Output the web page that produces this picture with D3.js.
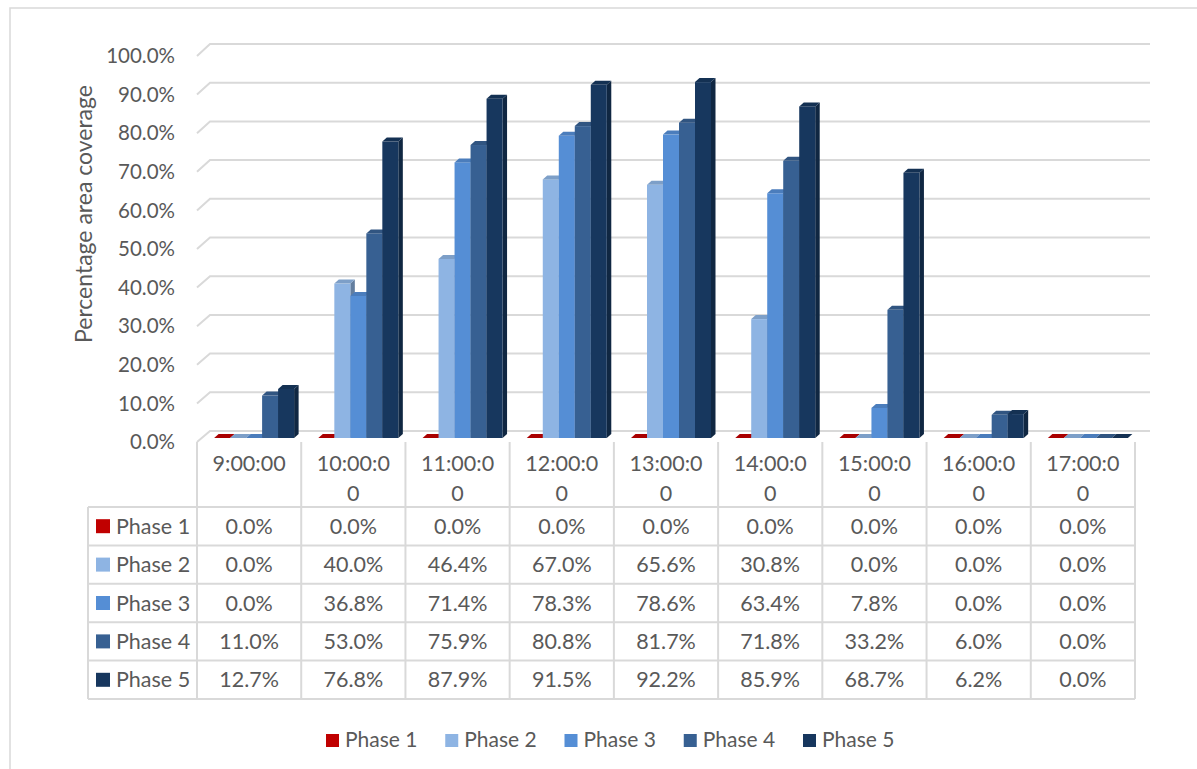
<!DOCTYPE html>
<html>
<head>
<meta charset="utf-8">
<script src="https://cdn.jsdelivr.net/npm/d3@7"></script>
<style>
  html, body { margin: 0; padding: 0; background: #ffffff; }
  svg { display: block; }
  text { font-family: Lato, "Open Sans", sans-serif; fill: #595959; }
</style>
</head>
<body>
<svg id="chart" width="1197" height="769"></svg>
<script>
// Coverage per time of day, one array per phase
const categories = ["9:00:00", "10:00:00", "11:00:00", "12:00:00", "13:00:00", "14:00:00", "15:00:00", "16:00:00", "17:00:00"];
const phases = ["Phase 1", "Phase 2", "Phase 3", "Phase 4", "Phase 5"];
const phase1 = [0.000, 0.000, 0.000, 0.000, 0.000, 0.000, 0.000, 0.000, 0.000];
const phase2 = [0.000, 0.400, 0.464, 0.670, 0.656, 0.308, 0.000, 0.000, 0.000];
const phase3 = [0.000, 0.368, 0.714, 0.783, 0.786, 0.634, 0.078, 0.000, 0.000];
const phase4 = [0.110, 0.530, 0.759, 0.808, 0.817, 0.718, 0.332, 0.060, 0.000];
const phase5 = [0.127, 0.768, 0.879, 0.915, 0.922, 0.859, 0.687, 0.062, 0.000];
const yTicks = [0, 0.1, 0.2, 0.3, 0.4, 0.5, 0.6, 0.7, 0.8, 0.9, 1.0];
const phaseColors = ["#C00000", "#8EB4E3", "#558ED5", "#376092", "#17375E"];

const seriesValues = [phase1, phase2, phase3, phase4, phase5];
const rows = phases.map((p, i) => ({ phase: p, color: phaseColors[i], values: seriesValues[i] }));

const svg = d3.select("#chart");
const pct = d3.format(".1%");
const axisFont = "20.5px", tableFont = "21.5px", legendFont = "21px", titleFont = "23px";

// Chart frame (top and left edges in view)
svg.append("path")
  .attr("d", "M10,769 L10,8 L1197,8")
  .attr("fill", "none").attr("stroke", "#d9d9d9").attr("stroke-width", 1.5);

// Column band shared by plot and data table
const x = d3.scaleBand().domain(categories).range([197, 1135]).paddingInner(0).paddingOuter(0);
const bw = x.bandwidth();

// Three vertical planes: front edge of floor (axis labels), bar faces, back wall
const yFront = d3.scaleLinear().domain([0, 1]).range([442, 56]);
const yBar   = d3.scaleLinear().domain([0, 1]).range([438, 52]);
const yBack  = d3.scaleLinear().domain([0, 1]).range([431, 44]);
const wallX0 = 210, wallX1 = 1150, frontX = 197;

// Gridlines: short diagonal on the side wall, then across the back wall
const grid = svg.append("g");
yTicks.forEach(t => {
  grid.append("path")
    .attr("d", `M${frontX},${yFront(t)} L${wallX0},${yBack(t)} L${wallX1},${yBack(t)}`)
    .attr("fill", "none").attr("stroke", "#d9d9d9").attr("stroke-width", 2);
});

// Value axis labels
const yAxis = svg.append("g");
yAxis.selectAll("text").data(yTicks).join("text")
  .attr("x", 175).attr("y", d => yFront(d))
  .attr("dy", "0.35em").attr("text-anchor", "end")
  .style("font-size", axisFont)
  .text(d => pct(d));

svg.append("text")
  .attr("transform", `translate(92,214) rotate(-90)`)
  .attr("text-anchor", "middle")
  .style("font-size", titleFont)
  .text("Percentage area coverage");

// 3D columns
const groupW = 80, depthX = 4.5, depthY = 4;
const xs = d3.scaleBand().domain(phases).range([0, groupW]);
const barW = xs.bandwidth();
const groupOffset = (bw - groupW) / 2 + 5;

const bars = svg.append("g");
categories.forEach((cat, ci) => {
  rows.forEach(r => {
    const v = r.values[ci];
    const x0 = x(cat) + groupOffset + xs(r.phase);
    const x1 = x0 + barW;
    const yt = yBar(v), yb = yBar(0);
    const base = d3.color(r.color);
    const g = bars.append("g");
    // side face
    g.append("path")
      .attr("d", `M${x1},${yt} L${x1 + depthX},${yt - depthY} L${x1 + depthX},${yb - depthY} L${x1},${yb} Z`)
      .attr("fill", base.darker(1.0).formatHex());
    // front face
    if (yb - yt > 0) {
      g.append("rect")
        .attr("x", x0).attr("y", yt)
        .attr("width", barW).attr("height", yb - yt)
        .attr("fill", r.color);
    }
    // top face
    g.append("path")
      .attr("d", `M${x0},${yt} L${x1},${yt} L${x1 + depthX},${yt - depthY} L${x0 + depthX},${yt - depthY} Z`)
      .attr("fill", base.darker(0.35).formatHex());
  });
});

// Data table
const rowH = 38.4;
const headTop = 442, headBottom = 507;
const tableLeft = 88, tableRight = 1135;
const yRow = i => headBottom + i * rowH;
const table = svg.append("g");
const lineColor = "#d9d9d9";

// horizontal rules
d3.range(rows.length + 1).forEach(i => {
  table.append("line")
    .attr("x1", tableLeft).attr("x2", tableRight)
    .attr("y1", yRow(i)).attr("y2", yRow(i))
    .attr("stroke", lineColor).attr("stroke-width", 2);
});
// vertical rules
table.append("line")
  .attr("x1", tableLeft).attr("x2", tableLeft)
  .attr("y1", headBottom).attr("y2", yRow(rows.length))
  .attr("stroke", lineColor).attr("stroke-width", 2);
categories.concat(["end"]).forEach((c, i) => {
  const xx = i < categories.length ? x(c) : x.range()[1];
  table.append("line")
    .attr("x1", xx).attr("x2", xx)
    .attr("y1", headTop).attr("y2", yRow(rows.length))
    .attr("stroke", lineColor).attr("stroke-width", 2);
});

// category headers, broken after seven characters
categories.forEach(c => {
  const parts = c.length > 7 ? [c.slice(0, 7), c.slice(7)] : [c];
  const t = table.append("text")
    .attr("x", x(c) + bw / 2).attr("y", 471)
    .attr("text-anchor", "middle")
    .style("font-size", tableFont);
  parts.forEach((p, k) => {
    t.append("tspan").attr("x", x(c) + bw / 2).attr("dy", k === 0 ? 0 : 30).text(p);
  });
});

// row headers with colour keys, and values
rows.forEach((r, i) => {
  const yc = yRow(i) + rowH / 2;
  table.append("rect")
    .attr("x", 96).attr("y", yc - 7).attr("width", 14).attr("height", 14)
    .attr("fill", r.color);
  table.append("text")
    .attr("x", 116).attr("y", yc).attr("dy", "0.35em")
    .style("font-size", tableFont)
    .text(r.phase);
  categories.forEach((c, ci) => {
    table.append("text")
      .attr("x", x(c) + bw / 2).attr("y", yc).attr("dy", "0.35em")
      .attr("text-anchor", "middle")
      .style("font-size", tableFont)
      .text(pct(r.values[ci]));
  });
});

// Legend
const legendX = d3.scalePoint().domain(phases).range([326, 803]);
const legend = svg.append("g");
rows.forEach(r => {
  const lx = legendX(r.phase);
  legend.append("rect")
    .attr("x", lx).attr("y", 734).attr("width", 13).attr("height", 13)
    .attr("fill", r.color);
  legend.append("text")
    .attr("x", lx + 19).attr("y", 740).attr("dy", "0.35em")
    .style("font-size", legendFont)
    .text(r.phase);
});
</script>
</body>
</html>
